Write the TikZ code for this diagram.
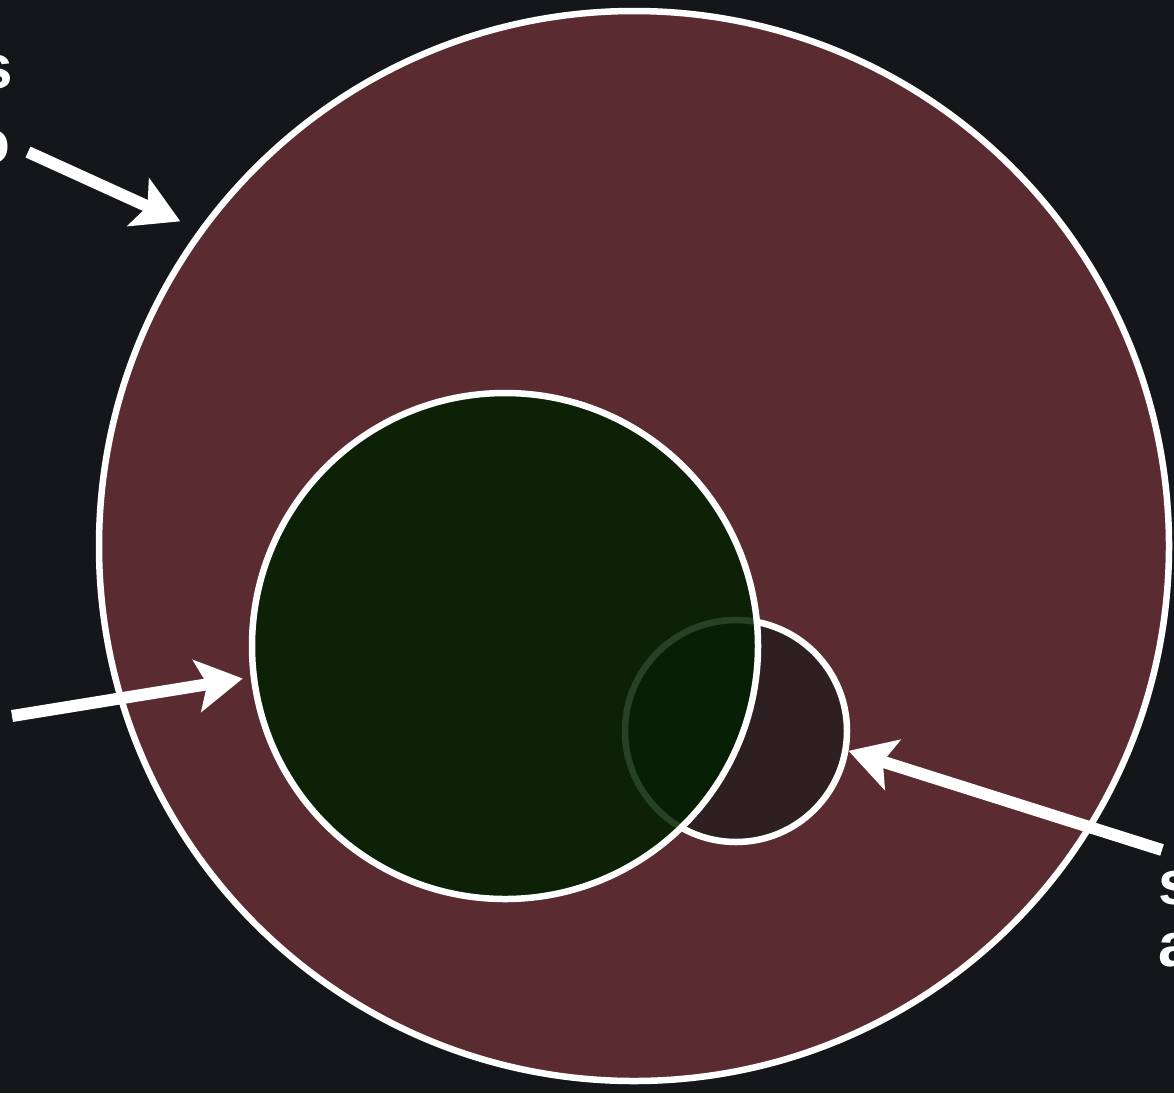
\documentclass[tikz,border=0pt]{standalone}
\usepackage{fontspec}
\setmainfont{Liberation Sans}
\usepackage{tikz}
\usetikzlibrary{arrows.meta}
\definecolor{bgdark}{RGB}{20,22,26}
\definecolor{maroon}{RGB}{90,43,48}
\definecolor{leafgreen}{RGB}{0,32,0}
\definecolor{plum}{RGB}{45,31,34}
\tikzset{
    ring/.style={circle, draw=white, line width=6.5pt, inner sep=0pt, minimum size=#1},
    pointer/.style={draw=white, line width=12pt,
    -{Stealth[length=46pt, width=52pt, inset=10pt]}},
    lbl/.style={text=white, inner sep=0pt, font=\fontsize{62}{75}\selectfont\bfseries}
}

\begin{document}
\begin{tikzpicture}[x=1pt,y=-1pt]
    \fill[bgdark] (0,0) rectangle (1174,1093);
    \useasboundingbox (0,0) rectangle (1174,1093);

    % circles
    \node[ring=1070pt, fill=maroon] (outer) at (634,546) {};
    \node[ring=222pt, fill=plum] (small) at (736,731) {};
    \node[ring=506pt, fill=leafgreen, fill opacity=0.85] (inner) at (505,646) {};

    % labels, cut by the page edge
    \node[lbl, anchor=east] (topS) at (13,72) {s};
    \node[lbl, anchor=east] (topO) at (11,147) {o};
    \node[lbl, anchor=west] (botS) at (1158,888) {s};
    \node[lbl, anchor=west] (botA) at (1158,950) {a};

    \coordinate (tailA) at (28,152);
    \coordinate (tailB) at (12,716);
    \coordinate (tailC) at (1162,850);

    \draw[pointer, shorten >=20pt] (tailA) -- (outer.144.7);
    \draw[pointer, shorten >=8pt] (tailB) -- (inner.187.6);
    \draw[pointer] (tailC) -- (small.-10.9);
\end{tikzpicture}
\end{document}
